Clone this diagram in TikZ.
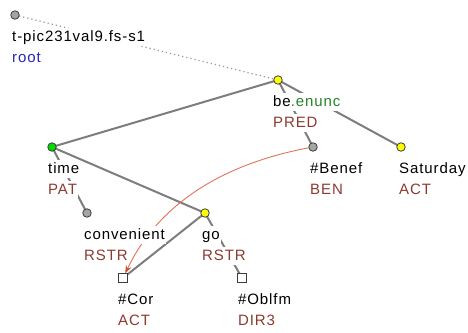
\documentclass[tikz,border=0pt]{standalone}
\usepackage{fontspec}
\setmainfont[LetterSpace=6]{Liberation Sans}
\usetikzlibrary{backgrounds,arrows.meta}
\definecolor{edgegray}{RGB}{125,125,125}
\definecolor{dotgray}{RGB}{150,150,150}
\definecolor{funccol}{RGB}{140,58,48}
\definecolor{rootblue}{RGB}{40,40,180}
\definecolor{enuncgreen}{RGB}{40,130,40}
\definecolor{corefred}{RGB}{225,115,90}
\definecolor{corefhead}{RGB}{205,85,50}
\definecolor{nodeyellow}{RGB}{255,255,0}
\definecolor{nodegreen}{RGB}{0,220,0}
\definecolor{nodegray}{RGB}{165,165,165}
\definecolor{outline}{RGB}{60,60,60}
\tikzset{
  ynode/.style={circle,draw=outline,fill=nodeyellow,line width=0.8pt,minimum size=8.5pt,inner sep=0pt},
  gnode/.style={circle,draw=outline,fill=nodegreen,line width=0.8pt,minimum size=8.5pt,inner sep=0pt},
  hnode/.style={circle,draw=outline,fill=nodegray,line width=0.8pt,minimum size=8.5pt,inner sep=0pt},
  snode/.style={rectangle,draw=outline,fill=white,line width=0.8pt,minimum size=8.5pt,inner sep=0pt},
  lbl/.style={anchor=base west,fill=white,inner xsep=1pt,inner ysep=1pt,text height=12.5pt,text depth=4pt,font=\fontsize{15}{18}\selectfont,text=black},
  flbl/.style={lbl,text=funccol},
  edge/.style={draw=edgegray,line width=2pt},
  rootedge/.style={draw=dotgray,line width=1.2pt,dash pattern=on 1.2pt off 3pt},
  coref/.style={draw=corefred,line width=0.9pt,-{Stealth[length=8pt,width=6pt,color=corefhead]}}
}
\begin{document}
\begin{tikzpicture}[x=1pt,y=-1pt]
\useasboundingbox (0,0) rectangle (468,332);
% nodes
\node[hnode] (root) at (15,15) {};
\node[ynode] (be) at (278,80) {};
\node[gnode] (time) at (52,147) {};
\node[hnode] (benef) at (313,147) {};
\node[ynode] (sat) at (401,147) {};
\node[hnode] (conv) at (87,213) {};
\node[ynode] (go) at (205,213) {};
\node[snode] (cor) at (123,278) {};
\node[snode] (obl) at (242,278) {};
% labels
\node[lbl] (rootT) at (11,41) {t-pic231val9.fs-s1};
\node[lbl,text=rootblue] (rootF) at (11,62) {root};
\node[lbl] (beT) at (272,106) {be\textcolor{enuncgreen}{.enunc}};
\node[flbl] (beF) at (272,127) {PRED};
\node[lbl] (timeT) at (47,173) {time};
\node[flbl] (timeF) at (47,194) {PAT};
\node[lbl] (benefT) at (309,173) {\#Benef};
\node[flbl] (benefF) at (309,194) {BEN};
\node[lbl] (satT) at (398,173) {Saturday};
\node[flbl] (satF) at (398,194) {ACT};
\node[lbl] (convT) at (83,239) {convenient};
\node[flbl] (convF) at (83,260) {RSTR};
\node[lbl] (goT) at (201,239) {go};
\node[flbl] (goF) at (201,260) {RSTR};
\node[lbl] (corT) at (117,304) {\#Cor};
\node[flbl] (corF) at (117,325) {ACT};
\node[lbl] (oblT) at (237,304) {\#Oblfm};
\node[flbl] (oblF) at (237,325) {DIR3};
% edges
\begin{scope}[on background layer]
\draw[rootedge] (root.center) -- (be.center);
\draw[edge] (be.center) -- (time.center);
\draw[edge] (be.center) -- (benef.center);
\draw[edge] (be.center) -- (sat.center);
\draw[edge] (time.center) -- (conv.center);
\draw[edge] (time.center) -- (go.center);
\draw[edge] (go.center) -- (cor.center);
\draw[edge] (go.center) -- (obl.center);
\draw[coref] (benef) .. controls (218,165) and (157,207) .. (cor);
\end{scope}
\end{tikzpicture}
\end{document}
